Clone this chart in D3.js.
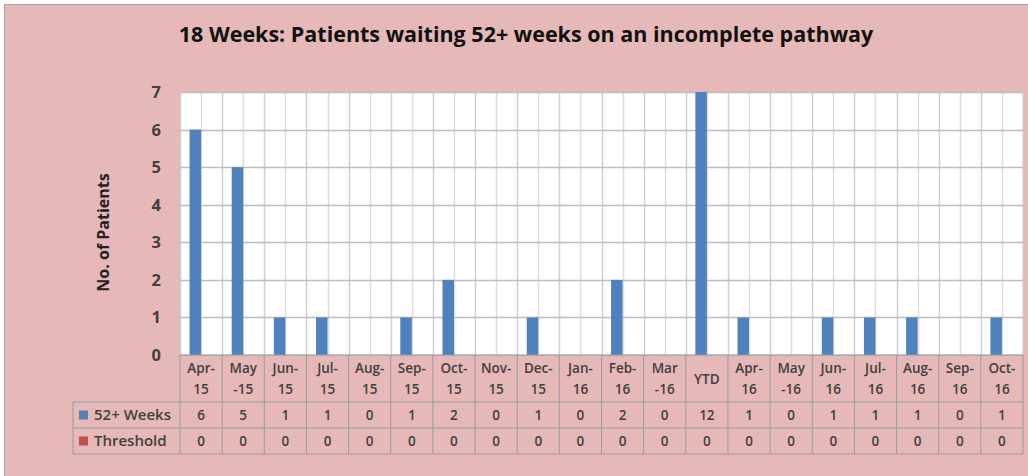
<!DOCTYPE html>
<html>
<head>
<meta charset="utf-8">
<script src="https://cdn.jsdelivr.net/npm/d3@7"></script>
<style>
  body { margin: 0; background: #fff; }
  svg { display: block; }
  text { font-family: "Open Sans", "DejaVu Sans", sans-serif; fill: #333; }
</style>
</head>
<body>
<div id="chart"><svg></svg></div>
<script>
const width = 1028;
const height = 476;

const months = ['Apr-|15', 'May|-15', 'Jun-|15', 'Jul-|15', 'Aug-|15', 'Sep-|15', 'Oct-|15', 'Nov-|15',
  'Dec-|15', 'Jan-|16', 'Feb-|16', 'Mar|-16', 'YTD', 'Apr-|16', 'May|-16', 'Jun-|16', 'Jul-|16',
  'Aug-|16', 'Sep-|16', 'Oct-|16'];
const weeks52 = [6, 5, 1, 1, 0, 1, 2, 0, 1, 0, 2, 0, 12, 1, 0, 1, 1, 1, 0, 1];
const threshold = [0, 0, 0, 0, 0, 0, 0, 0, 0, 0, 0, 0, 0, 0, 0, 0, 0, 0, 0, 0];
const seriesNames = ['52+ Weeks', 'Threshold'];
const seriesColors = ['#4F81BD', '#C0504D'];
const yTicks = [0, 1, 2, 3, 4, 5, 6, 7];

const plot = {left: 180, right: 1023, top: 92, bottom: 355};
const tableLeft = 73;
const headerBottom = 402;
const rowH = 26;

const svg = d3.select('#chart svg').attr('width', width).attr('height', height);

// chart area background + frame
svg.append('rect')
  .attr('x', 4.5).attr('y', 4.5)
  .attr('width', width + 10).attr('height', height + 10)
  .attr('fill', '#E6B9B8')
  .attr('stroke', '#A6A6A6');

svg.append('text')
  .attr('x', 526).attr('y', 42)
  .attr('text-anchor', 'middle')
  .style('font-size', '21.5px').style('font-weight', 'bold').style('fill', '#111')
  .text('18 Weeks: Patients waiting 52+ weeks on an incomplete pathway');

let x = d3.scaleBand().domain(months).range([plot.left, plot.right]);
let xs = d3.scaleBand().domain(seriesNames).range([0, x.bandwidth()]).paddingOuter(0.83);
let y = d3.scaleLinear().domain([0, 7]).range([plot.bottom, plot.top]).clamp(true);

svg.append('rect')
  .attr('x', plot.left).attr('y', plot.top)
  .attr('width', plot.right - plot.left).attr('height', plot.bottom - plot.top)
  .attr('fill', '#fff');

// vertical gridlines, every half category
let gGrid = svg.append('g');
months.forEach(m => {
  [0, 0.5].forEach(f => {
    let gx = Math.round(x(m) + f * x.step()) + 0.5;
    gGrid.append('line')
      .attr('x1', gx).attr('x2', gx)
      .attr('y1', plot.top).attr('y2', plot.bottom)
      .attr('stroke', f === 0 ? '#CFCFCF' : '#DDDDDD').attr('stroke-width', 1.5);
  });
});
gGrid.append('line')
  .attr('x1', plot.right).attr('x2', plot.right)
  .attr('y1', plot.top).attr('y2', plot.bottom)
  .attr('stroke', '#CFCFCF').attr('stroke-width', 1.5);

yTicks.forEach(t => {
  gGrid.append('line')
    .attr('x1', plot.left).attr('x2', plot.right)
    .attr('y1', Math.round(y(t)) + 0.5).attr('y2', Math.round(y(t)) + 0.5)
    .attr('stroke', '#BDBDBD').attr('stroke-width', 1.5);
  svg.append('text')
    .attr('x', 161).attr('y', y(t)).attr('dy', '0.36em')
    .attr('text-anchor', 'end')
    .style('font-size', '16.5px').style('font-weight', 'bold').style('fill', '#404040')
    .text(t);
});

svg.append('text')
  .attr('transform', `translate(109, ${(plot.top + plot.bottom) / 2 + 9}) rotate(-90)`)
  .attr('text-anchor', 'middle')
  .style('font-size', '16px').style('font-weight', 'bold').style('fill', '#222')
  .text('No. of Patients');

// bars
let series = [weeks52, threshold];
series.forEach((vals, si) => {
  svg.append('g').selectAll('rect')
    .data(vals)
    .join('rect')
    .attr('x', (d, i) => x(months[i]) + xs(seriesNames[si]))
    .attr('width', xs.bandwidth())
    .attr('y', d => y(d))
    .attr('height', d => y(0) - y(d))
    .attr('fill', seriesColors[si]);
});

// data table
let gTab = svg.append('g');
const lineColor = '#9A9A9A';
const cellFont = {size: '13.5px', weight: 600};
let tableBottom = headerBottom + rowH * 2;
months.forEach((m, i) => {
  let x0 = x(m);
  gTab.append('line')
    .attr('x1', x0).attr('x2', x0).attr('y1', plot.bottom).attr('y2', tableBottom)
    .attr('stroke', lineColor);
  let cx = x0 + x.bandwidth() / 2;
  let parts = m.split('|');
  if (parts.length === 2) {
    parts.forEach((p, k) => {
      gTab.append('text')
        .attr('x', cx).attr('y', 368 + k * 21).attr('dy', '0.35em')
        .attr('text-anchor', 'middle')
        .style('font-size', cellFont.size).style('font-weight', cellFont.weight).style('fill', '#404040')
        .text(p);
    });
  } else {
    gTab.append('text')
      .attr('x', cx).attr('y', 379).attr('dy', '0.35em')
      .attr('text-anchor', 'middle')
      .style('font-size', cellFont.size).style('font-weight', cellFont.weight).style('fill', '#404040')
      .text(m);
  }
  series.forEach((vals, si) => {
    gTab.append('text')
      .attr('x', cx).attr('y', headerBottom + rowH * si + rowH / 2).attr('dy', '0.35em')
      .attr('text-anchor', 'middle')
      .style('font-size', cellFont.size).style('font-weight', cellFont.weight).style('fill', '#404040')
      .text(vals[i]);
  });
});
gTab.append('line')
  .attr('x1', plot.right).attr('x2', plot.right).attr('y1', plot.bottom).attr('y2', tableBottom)
  .attr('stroke', lineColor);
gTab.append('line')
  .attr('x1', plot.left).attr('x2', plot.right).attr('y1', plot.bottom).attr('y2', plot.bottom)
  .attr('stroke', lineColor);
[0, 1, 2].forEach(r => {
  gTab.append('line')
    .attr('x1', tableLeft).attr('x2', plot.right)
    .attr('y1', headerBottom + r * rowH).attr('y2', headerBottom + r * rowH)
    .attr('stroke', lineColor);
});
gTab.append('line')
  .attr('x1', tableLeft).attr('x2', tableLeft).attr('y1', headerBottom).attr('y2', tableBottom)
  .attr('stroke', lineColor);

seriesNames.forEach((s, si) => {
  let cy = headerBottom + rowH * si + rowH / 2;
  gTab.append('rect')
    .attr('x', 79).attr('y', cy - 4.5).attr('width', 9).attr('height', 9)
    .attr('fill', seriesColors[si]);
  gTab.append('text')
    .attr('x', 94).attr('y', cy).attr('dy', '0.35em')
    .style('font-size', '15px').style('font-weight', 600).style('fill', '#404040')
    .text(s);
});
</script>
</body>
</html>
